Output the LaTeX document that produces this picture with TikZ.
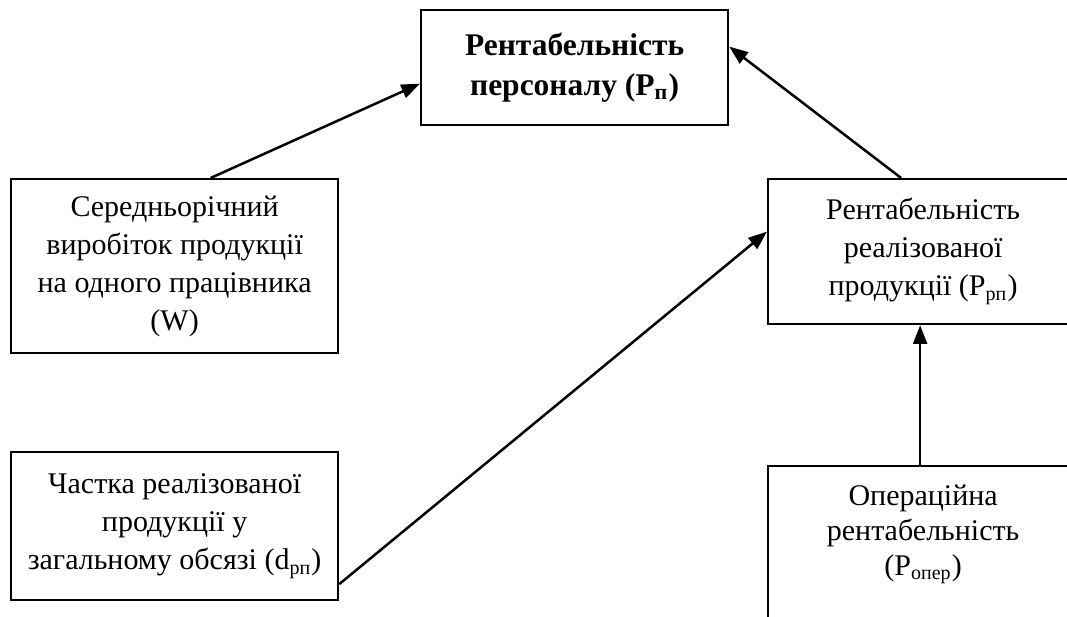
\documentclass[tikz,border=0pt]{standalone}
\usepackage{fontspec}
\setmainfont{Liberation Serif}
\usepackage{tikz}
\usetikzlibrary{arrows.meta,calc}

\newdimen\px \px=0.4pt

\tikzset{
  blok/.style={draw, line width=0.9pt, align=center, inner sep=0pt,
               anchor=north west, font=\fontsize{12}{15.2}\selectfont},
  strilka/.style={-{Triangle[length=7.5pt,width=5.6pt]}, line width=1pt},
}

\begin{document}
\begin{tikzpicture}[x=0.4pt, y=-0.4pt]
        \useasboundingbox (0,0) rectangle (1067,617);
        \clip (0,0) rectangle (1067,617);

        % Rentabelnist personalu
        \node[blok, minimum width=307\px, minimum height=115\px,
              font=\fontsize{12.6}{16}\selectfont\bfseries] (rp) at (420,9)
              {Рентабельність\\персоналу (Р\textsubscript{п})};
        % Vyrobitok
        \node[blok, minimum width=327\px, minimum height=174\px] (vyr) at (10,178)
              {Середньорічний\\виробіток продукції\\на одного працівника\\(W)};
        % Chastka
        \node[blok, minimum width=327\px, minimum height=148\px] (chastka) at (10,451)
              {Частка реалізованої\\продукції у\\загальному обсязі (d\textsubscript{рп})};
        % Rentabelnist realizovanoi produkcii
        \node[blok, minimum width=310\px, minimum height=145\px] (rrp) at (767,178)
              {Рентабельність\\реалізованої\\продукції (Р\textsubscript{рп})};
        % Operatsiina (box goes past the page)
        \node[blok, minimum width=310\px, minimum height=240\px] (oper) at (767,465) {};
        \node[align=center, inner sep=0pt, anchor=north,
              font=\fontsize{12}{14}\selectfont] (opertxt) at ($(oper.north)+(0,19)$)
              {Операційна\\рентабельність\\(Р\textsubscript{опер})};

        % Arrows
        \draw[strilka] ($(vyr.north)+(36,0)$) -- ($(rp.west)+(0,16)$);
        \draw[strilka] ($(rrp.north)+(-22,0)$) -- ($(rp.east)+(0,-21)$);
        \draw[strilka] ($(chastka.east)+(0,58)$) -- ($(rrp.west)+(0,-20)$);
        \draw[strilka] ($(oper.north)+(-3,0)$) -- ($(rrp.south)+(-3,0)$);
    \end{tikzpicture}
\end{document}
